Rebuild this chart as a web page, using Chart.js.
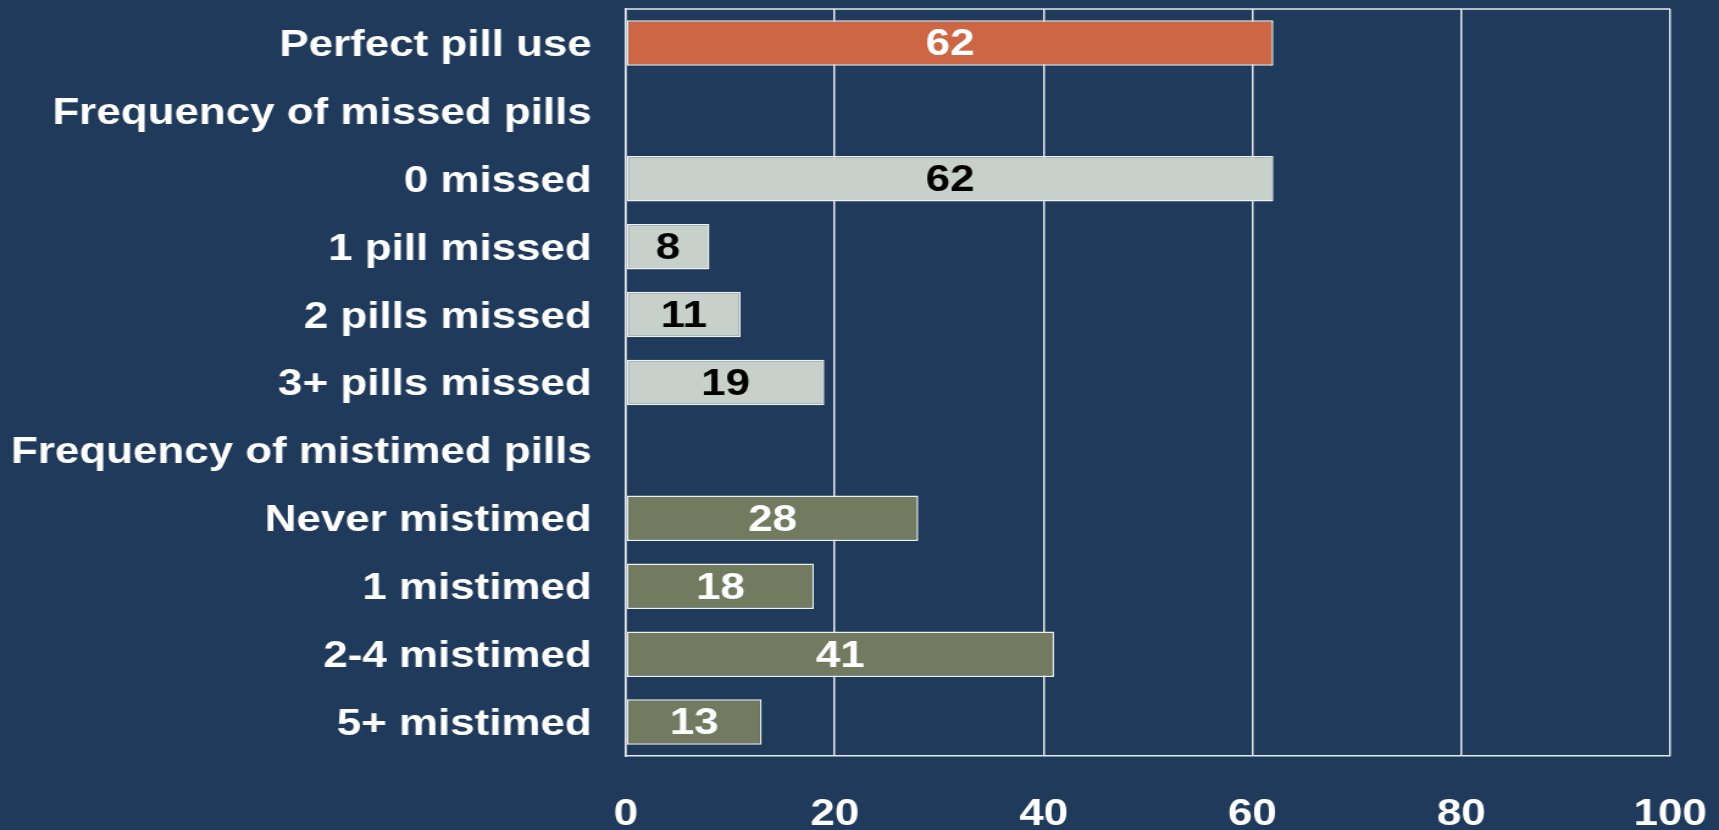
<!DOCTYPE html>
<html><head><meta charset="utf-8">
<script src="https://cdn.jsdelivr.net/npm/chart.js@4.4.1/dist/chart.umd.min.js"></script>
<style>
html,body{margin:0;padding:0;background:#1F3A5A;overflow:hidden}
#c{display:block}
</style></head>
<body><canvas id="c" width="1409" height="830" style="width:1719px;height:830px"></canvas>
<script>
const categories = ['Perfect pill use','Frequency of missed pills','0 missed','1 pill missed','2 pills missed','3+ pills missed','Frequency of mistimed pills','Never mistimed','1 mistimed','2-4 mistimed','5+ mistimed'];
const perfectUse    = [62, null, null, null, null, null, null, null, null, null, null];
const missedPills   = [null, null, 62, 8, 11, 19, null, null, null, null, null];
const mistimedPills = [null, null, null, null, null, null, null, 28, 18, 41, 13];
const xTicks = [0, 20, 40, 60, 80, 100];

const FONT = "'Liberation Sans', Arial, sans-serif";
const LINE = '#E6EAEE';

const topBorder = {
  id: 'topBorder',
  beforeDatasetsDraw(chart) {
    const a = chart.chartArea, ctx = chart.ctx;
    ctx.save();
    ctx.strokeStyle = LINE; ctx.lineWidth = 1.5;
    ctx.beginPath(); ctx.moveTo(a.left, a.top); ctx.lineTo(a.right, a.top); ctx.stroke();
    ctx.restore();
  }
};

const valueLabels = {
  id: 'valueLabels',
  afterDatasetsDraw(chart) {
    const ctx = chart.ctx;
    ctx.save();
    ctx.font = 'bold 36px ' + FONT;
    ctx.textAlign = 'center';
    ctx.textBaseline = 'middle';
    chart.data.datasets.forEach((ds, di) => {
      const meta = chart.getDatasetMeta(di);
      meta.data.forEach((el, i) => {
        const v = ds.data[i];
        if (v === null || v === undefined) return;
        ctx.fillStyle = ds.labelColor;
        ctx.fillText(String(v), (el.x + el.base) / 2, el.y + 2.5);
      });
    });
    ctx.restore();
  }
};

new Chart(document.getElementById('c'), {
  type: 'bar',
  data: {
    labels: categories,
    datasets: [
      { data: perfectUse, backgroundColor: '#CC6644', labelColor: '#FFFFFF' },
      { data: missedPills, backgroundColor: '#C8D0CB', labelColor: '#000000' },
      { data: mistimedPills, backgroundColor: '#727B60', labelColor: '#FFFFFF' }
    ]
  },
  options: {
    indexAxis: 'y',
    responsive: false,
    animation: false,
    devicePixelRatio: 1,
    layout: { padding: { top: 9, right: 40, left: 0, bottom: 0 } },
    datasets: {
      bar: {
        grouped: false,
        categoryPercentage: 1,
        barPercentage: 0.67,
        borderWidth: 1.5,
        borderColor: '#EEF0EE',
        borderSkipped: false
      }
    },
    plugins: { legend: { display: false }, tooltip: { enabled: false } },
    scales: {
      x: {
        min: 0, max: 100,
        afterBuildTicks: axis => { axis.ticks = xTicks.map(v => ({ value: v })); },
        afterFit: axis => { axis.height = 74; axis.paddingLeft = 0; axis.paddingRight = 0; },
        grid: { color: LINE, lineWidth: 1.5, drawTicks: false },
        border: { display: true, color: LINE, width: 1.5 },
        ticks: { color: '#FFFFFF', padding: 37, maxRotation: 0, font: { family: FONT, size: 36, weight: 'bold' } }
      },
      y: {
        afterFit: axis => { axis.width = 513; axis.paddingTop = 0; axis.paddingBottom = 0; },
        grid: { display: false, drawTicks: false },
        border: { display: true, color: LINE, width: 1.5 },
        ticks: { color: '#FFFFFF', padding: 28, labelOffset: 3, autoSkip: false, font: { family: FONT, size: 36, weight: 'bold' } }
      }
    }
  },
  plugins: [topBorder, valueLabels]
});
</script>
</body></html>
